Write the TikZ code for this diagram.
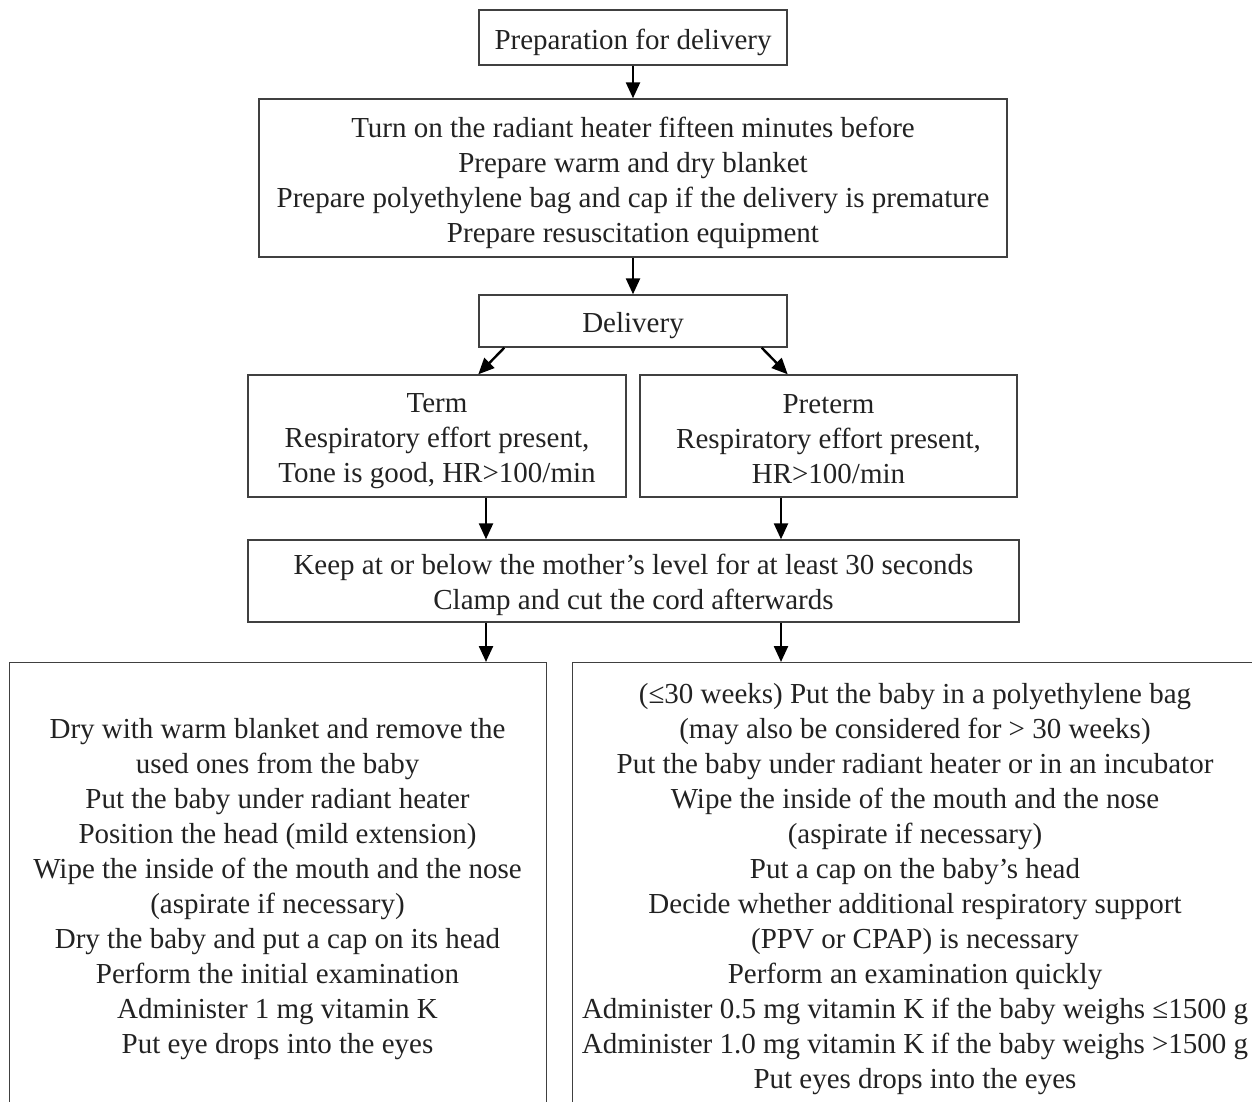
\documentclass[tikz,border=0pt]{standalone}
\usepackage{fontspec}
\setmainfont{Liberation Serif}
\usetikzlibrary{arrows.meta}
\definecolor{framecol}{HTML}{404040}
\definecolor{inkcol}{HTML}{222222}
\begin{document}
\begin{tikzpicture}[x=1pt,y=-1pt,
  txt/.style={font=\fontsize{29}{35}\selectfont, text=inkcol, align=center, inner sep=0pt},
  stagebox/.style={draw=framecol, line width=1.4pt, rectangle, inner sep=0pt},
  framebox/.style={draw=framecol, line width=1.4pt, rectangle, inner sep=0pt, anchor=north west},
  arr/.style={line width=2.4pt, draw=black, -{Triangle[length=16pt,width=14pt]}}
]
\useasboundingbox (0,0) rectangle (1252,1101);
\clip (0,0) rectangle (1252,1101);

% boxes
\node[stagebox, minimum width=308pt, minimum height=55pt] (prep) at (633,37.5) {};
\node[stagebox, minimum width=748pt, minimum height=158pt] (equip) at (633,178) {};
\node[stagebox, minimum width=308pt, minimum height=52pt] (deliv) at (633,321) {};
\node[stagebox, minimum width=378pt, minimum height=122pt] (term) at (437,436) {};
\node[stagebox, minimum width=377pt, minimum height=122pt] (preterm) at (828.5,436) {};
\node[stagebox, minimum width=771pt, minimum height=82pt] (keep) at (633.5,581) {};
\node[framebox, minimum width=537pt, minimum height=520pt] (lbox) at (9,662) {};
\node[framebox, minimum width=720pt, minimum height=520pt] (rbox) at (572,662) {};

% texts
\node[txt, yshift=-4.5pt] (prepT) at (prep.center) {Preparation for delivery};
\node[txt, yshift=-4.5pt] (equipT) at (equip.center)
  {Turn on the radiant heater fifteen minutes before\\
   Prepare warm and dry blanket\\
   Prepare polyethylene bag and cap if the delivery is premature\\
   Prepare resuscitation equipment};
\node[txt, yshift=-5pt] (delivT) at (deliv.center) {Delivery};
\node[txt, yshift=-5.5pt] (termT) at (term.center)
  {Term\\ Respiratory effort present,\\ Tone is good, HR>100/min};
\node[txt, yshift=-3pt] (pretermT) at (preterm.center)
  {Preterm\\ Respiratory effort present,\\ HR>100/min};
\node[txt, yshift=-4pt] (keepT) at (keep.center)
  {Keep at or below the mother’s level for at least 30 seconds\\
   Clamp and cut the cord afterwards};

\node[txt] (ltext) at (277.5,889)
  {Dry with warm blanket and remove the\\
   used ones from the baby\\
   Put the baby under radiant heater\\
   Position the head (mild extension)\\
   Wipe the inside of the mouth and the nose\\
   (aspirate if necessary)\\
   Dry the baby and put a cap on its head\\
   Perform the initial examination\\
   Administer 1 mg vitamin K\\
   Put eye drops into the eyes};

\node[txt] (rtext) at (915,889)
  {(≤30 weeks) Put the baby in a polyethylene bag\\
   (may also be considered for > 30 weeks)\\
   Put the baby under radiant heater or in an incubator\\
   Wipe the inside of the mouth and the nose\\
   (aspirate if necessary)\\
   Put a cap on the baby’s head\\
   Decide whether additional respiratory support\\
   (PPV or CPAP) is necessary\\
   Perform an examination quickly\\
   Administer 0.5 mg vitamin K if the baby weighs ≤1500 g\\
   Administer 1.0 mg vitamin K if the baby weighs >1500 g\\
   Put eyes drops into the eyes};

% connectors
\coordinate (colL) at (486,0);
\coordinate (colR) at (781,0);

\draw[arr] (prep) -- (equip);
\draw[arr] (equip) -- (deliv);
\draw[arr] ([xshift=26pt]deliv.south west) -- (term.north -| deliv.south west);
\draw[arr] ([xshift=-26pt]deliv.south east) -- (preterm.north -| deliv.south east);
\draw[arr] (term.south -| colL) -- (keep.north -| colL);
\draw[arr] (preterm.south -| colR) -- (keep.north -| colR);
\draw[arr] (keep.south -| colL) -- (lbox.north -| colL);
\draw[arr] (keep.south -| colR) -- (rbox.north -| colR);
\end{tikzpicture}
\end{document}
